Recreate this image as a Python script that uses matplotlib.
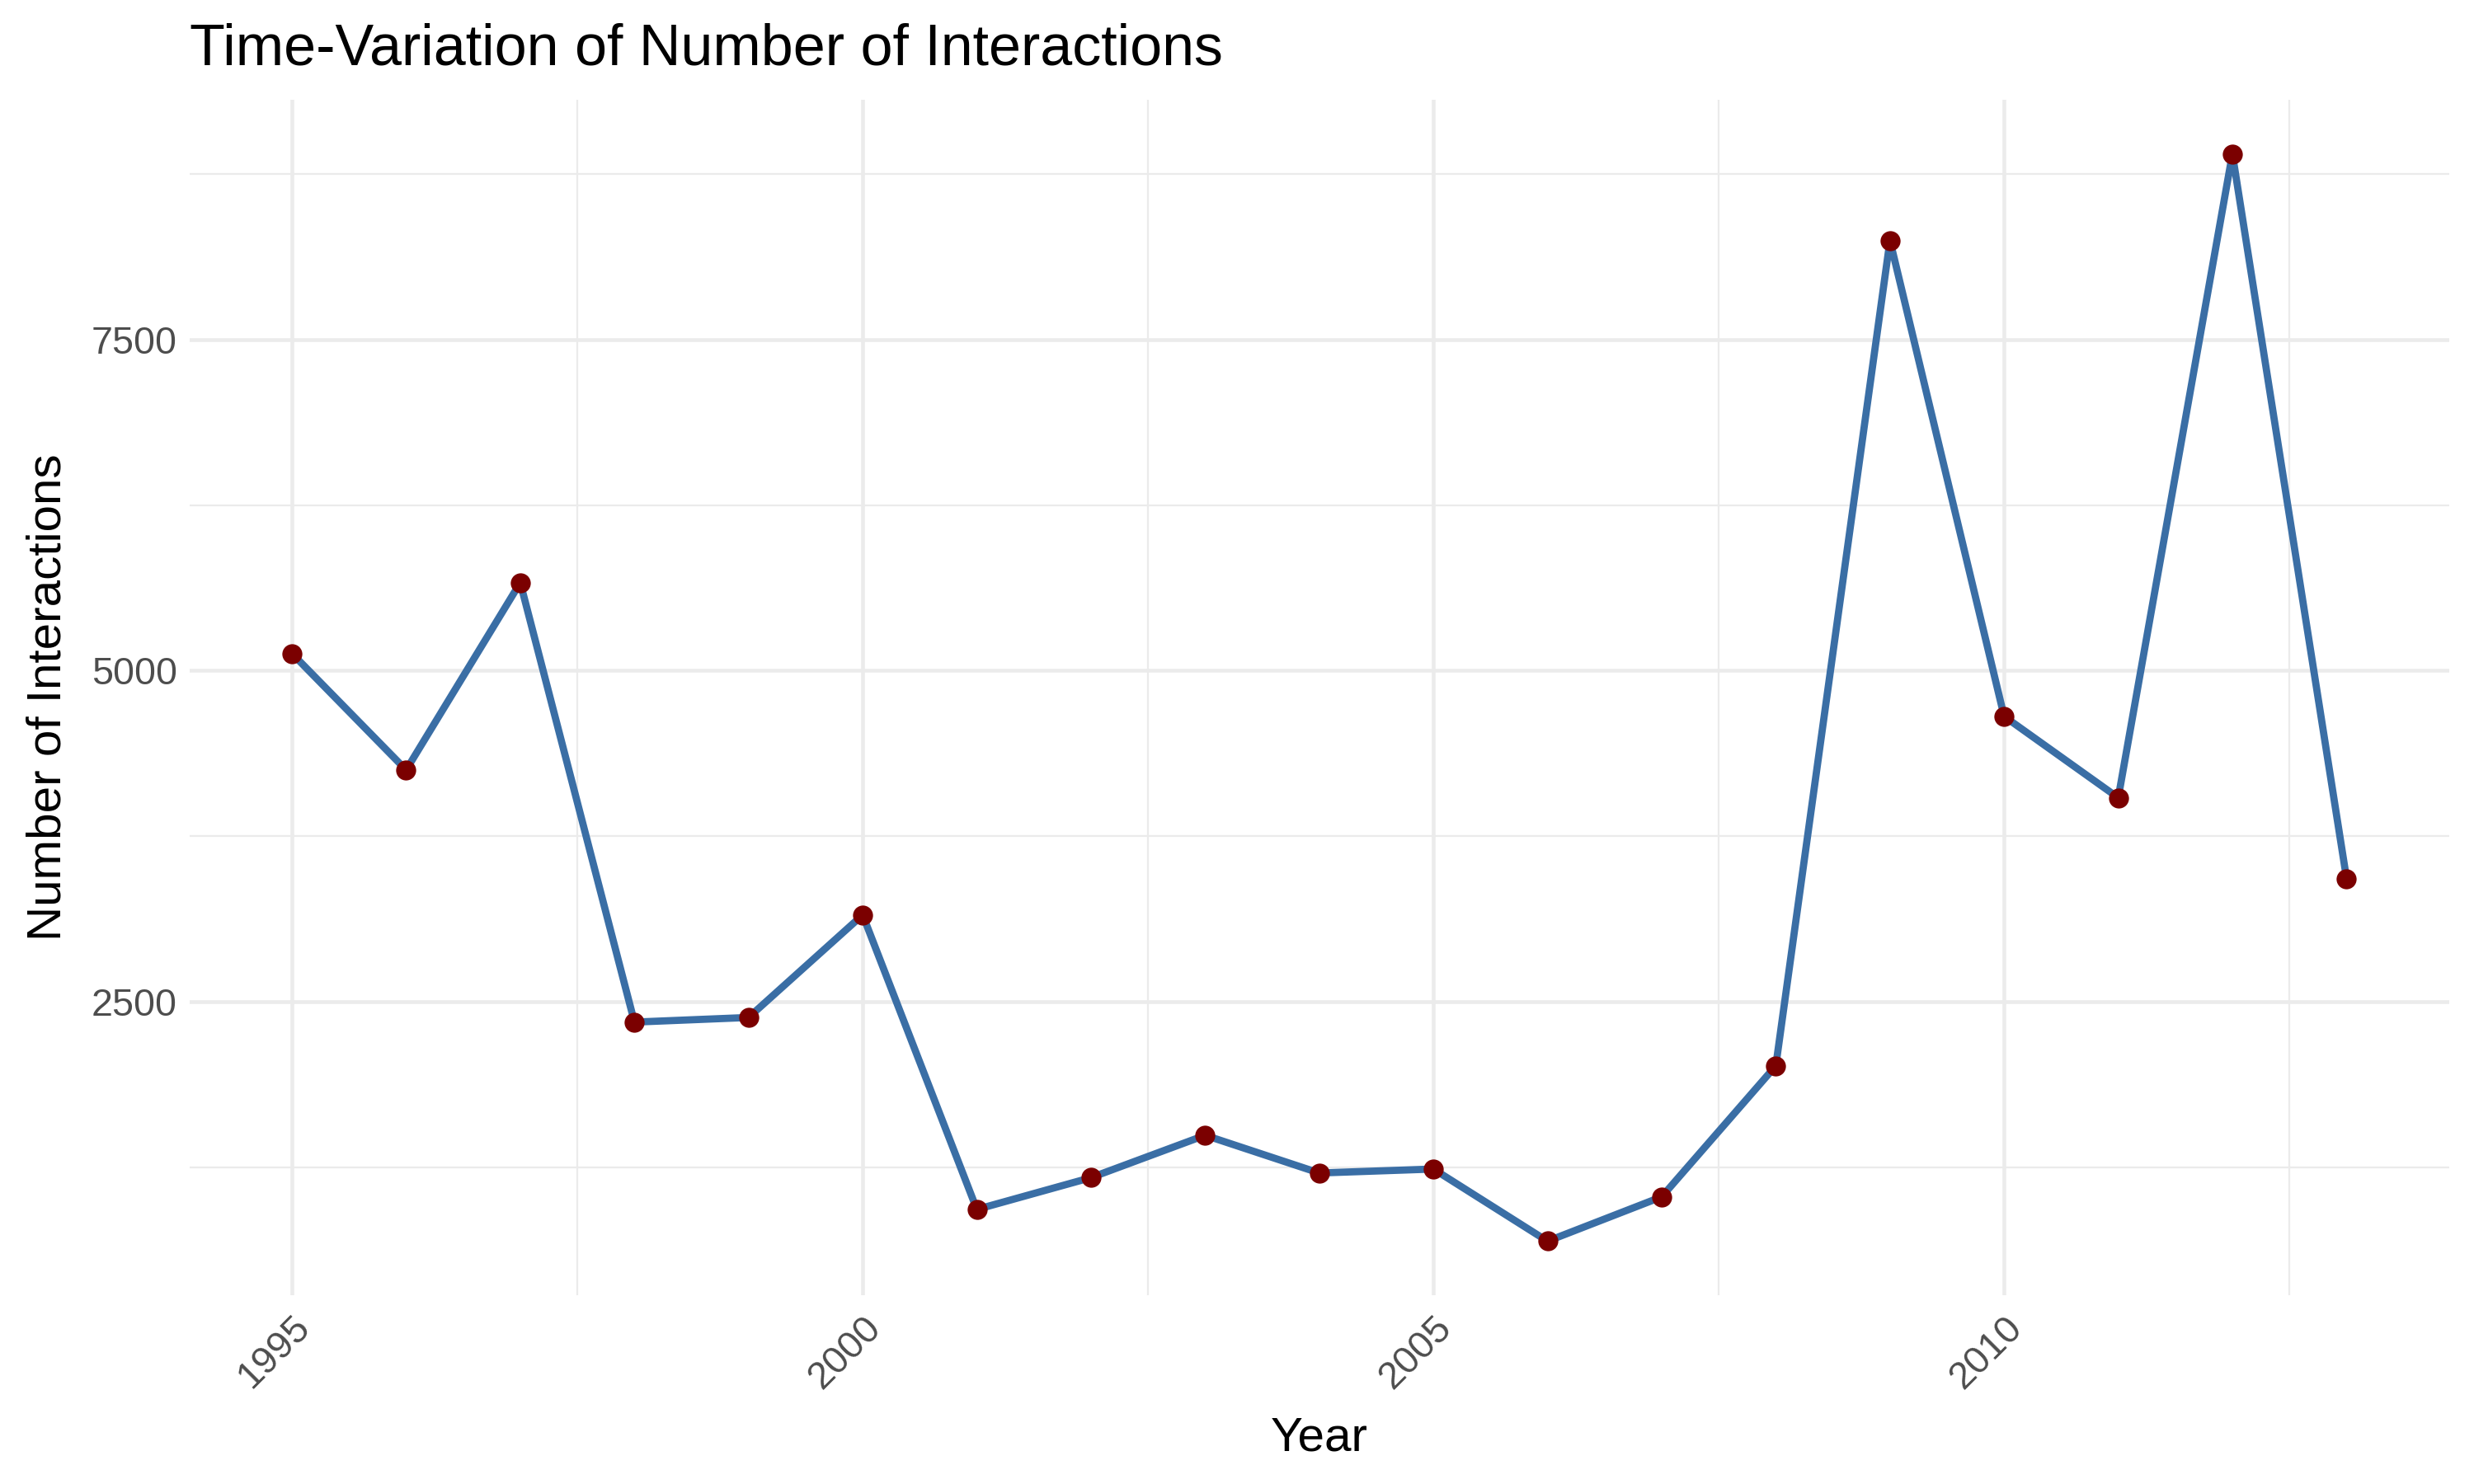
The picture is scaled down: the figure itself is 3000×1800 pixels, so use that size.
import matplotlib
matplotlib.use("Agg")
import matplotlib.pyplot as plt
from matplotlib.ticker import MultipleLocator

plt.rcParams['font.family'] = ['Liberation Sans', 'DejaVu Sans']

years = [1995, 1996, 1997, 1998, 1999, 2000, 2001, 2002, 2003, 2004,
         2005, 2006, 2007, 2008, 2009, 2010, 2011, 2012, 2013]
interactions = [5130, 4250, 5665, 2345, 2380, 3155, 930, 1170, 1490, 1205,
                1235, 690, 1025, 2015, 8250, 4655, 4040, 8905, 3430]

fig = plt.figure(figsize=(10, 6), dpi=300)
ax = fig.add_axes([0.0765, 0.127, 0.9135, 0.806])

ax.plot(years, interactions, color='#3A6EA5', lw=2.1, zorder=3)
ax.scatter(years, interactions, s=34, color='#7B0000', zorder=4, linewidths=0)

# ggplot style 5% expansion
lo, hi = min(interactions), max(interactions)
pad = (hi - lo) * 0.05
ax.set_ylim(lo - pad, hi + pad)
xpad = (max(years) - min(years)) * 0.05
ax.set_xlim(min(years) - xpad, max(years) + xpad)

ax.xaxis.set_major_locator(MultipleLocator(5))
ax.xaxis.set_minor_locator(MultipleLocator(2.5))
ax.yaxis.set_major_locator(MultipleLocator(2500))
ax.yaxis.set_minor_locator(MultipleLocator(1250))
ax.set_yticks([2500, 5000, 7500])
ax.grid(which='major', color='#EBEBEB', lw=1.1, zorder=0)
ax.grid(which='minor', color='#EBEBEB', lw=0.55, zorder=0)
for s in ax.spines.values():
    s.set_visible(False)
ax.tick_params(which='both', length=0)
ax.tick_params(axis='both', labelsize=11.2, labelcolor='#4D4D4D')
ax.tick_params(axis='x', pad=4)
plt.setp(ax.get_xticklabels(), rotation=45, ha='right', va='top',
         rotation_mode='anchor')

ax.set_xlabel('Year', fontsize=14, labelpad=6)
ax.set_ylabel('Number of Interactions', fontsize=14, labelpad=6)
ax.set_title('Time-Variation of Number of Interactions', fontsize=16.8,
             loc='left', x=0.0, pad=10)

fig.savefig('out.png', dpi=300, facecolor='white')
